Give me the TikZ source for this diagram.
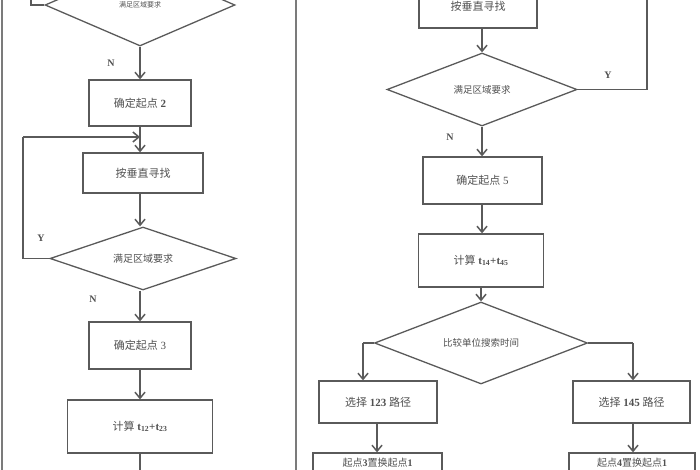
\documentclass[tikz,border=0pt]{standalone}
\usepackage{fontspec}
\setmainfont{Liberation Serif}
\newfontfamily\cjk{Noto Sans CJK SC}
\usetikzlibrary{shapes.geometric,arrows.meta}
\definecolor{lc}{RGB}{90,90,90}
\definecolor{tc}{RGB}{80,80,80}
\tikzset{
  stepbox/.style={draw=lc,line width=1.3pt,rectangle,inner sep=0pt,text=tc,font=\fontsize{11}{13}\selectfont},
  decide/.style={draw=lc,line width=1.3pt,diamond,inner sep=0pt,aspect=2.5,text=tc},
  flow/.style={draw=lc,line width=1.3pt,-{Straight Barb[length=6pt,width=10pt,line width=1.5pt]}},
  plain/.style={draw=lc,line width=1.3pt},
  yn/.style={text=tc,font=\bfseries\fontsize{10}{12}\selectfont,inner sep=0pt},
  panel/.style={draw=lc!80,line width=1.6pt}
}
\begin{document}
\begin{tikzpicture}[x=1pt,y=-1pt]
\useasboundingbox (0,0) rectangle (700,470);
\begin{scope}
\clip (0,0) rectangle (700,470);
% panel borders
\draw[panel] (2,-5) -- (2,475);
\draw[panel] (296,-5) -- (296,475);

% ---------- left column ----------
\node[decide,minimum width=190pt,minimum height=82pt,font=\fontsize{7}{8}\selectfont] (d0) at (140,5) {\cjk 满足区域要求};
\node[stepbox,minimum width=102pt,minimum height=46pt] (b2) at (140,103) {{\cjk 确定起点} \textbf{2}};
\node[stepbox,minimum width=120pt,minimum height=40pt] (bs) at (143,173) {\cjk 按垂直寻找};
\node[decide,minimum width=186pt,minimum height=63pt,font=\fontsize{10}{12}\selectfont] (d1) at (143,258.5) {\cjk 满足区域要求};
\node[stepbox,minimum width=102pt,minimum height=47pt] (b3) at (140,345.5) {{\cjk 确定起点} 3};
\node[stepbox,minimum width=145pt,minimum height=53pt] (b4) at (140,426.5) {{\cjk 计算} \textbf{t}$_{\mathbf{12}}$\textbf{+t}$_{\mathbf{23}}$};

\coordinate (cx) at (140,0);
\coordinate (l0a) at (31,5);
\coordinate (l0b) at (31,-10);
\draw[plain] (d0.west) -- (l0a) -- (l0b);
\draw[flow] (d0.south) -- (b2.north);
\node[yn] (n0) at (111,63) {N};
\draw[flow] (b2.south) -- (b2.south |- bs.north);
\coordinate (j1) at (140,137);
\coordinate (l1a) at (23,258.5);
\coordinate (l1b) at (23,137);
\draw[plain] (d1.west) -- (l1a) -- (l1b);
\draw[flow] (l1b) -- (j1);
\node[yn] (y1) at (41,238) {Y};
\draw[flow] (bs.south -| cx) -- (d1.north -| cx);
\draw[flow] (d1.south -| cx) -- (b3.north);
\node[yn] (n1) at (93,299) {N};
\draw[flow] (b3.south) -- (b4.north);
\coordinate (lend) at (140,480);
\draw[plain] (b4.south) -- (lend);

% ---------- right column ----------
\node[stepbox,minimum width=118pt,minimum height=44pt] (rb1) at (478,6) {\cjk 按垂直寻找};
\node[decide,minimum width=190pt,minimum height=73pt,font=\fontsize{9.5}{11}\selectfont] (rd1) at (482,89.5) {\cjk 满足区域要求};
\node[stepbox,minimum width=119pt,minimum height=47pt] (rb2) at (482.5,180.5) {{\cjk 确定起点} 5};
\node[stepbox,minimum width=125pt,minimum height=53pt] (rb3) at (481,260.5) {{\cjk 计算} \textbf{t}$_{\mathbf{14}}$\textbf{+t}$_{\mathbf{45}}$};
\node[decide,minimum width=213pt,minimum height=82pt,font=\fontsize{9.5}{11}\selectfont] (rd2) at (481,343) {\cjk 比较单位搜索时间};
\node[stepbox,minimum width=118pt,minimum height=42pt] (rb4) at (378,402) {{\cjk 选择} \textbf{123} {\cjk 路径}};
\node[stepbox,minimum width=117pt,minimum height=42pt] (rb5) at (631.5,402) {{\cjk 选择} \textbf{145} {\cjk 路径}};
\node[stepbox,minimum width=129pt,minimum height=40pt] (rb6) at (377.5,473) {};
\node[stepbox,minimum width=126pt,minimum height=40pt] (rb7) at (632,473) {};
\node[text=tc,font=\fontsize{10}{12}\selectfont,inner sep=0pt] (t6) at (377.5,463) {{\cjk 起点}\textbf{3}{\cjk 置换起点}\textbf{1}};
\node[text=tc,font=\fontsize{10}{12}\selectfont,inner sep=0pt] (t7) at (632,463) {{\cjk 起点}\textbf{4}{\cjk 置换起点}\textbf{1}};

\coordinate (rx) at (482,0);
\draw[flow] (rb1.south -| rx) -- (rd1.north);
\coordinate (r1a) at (647,89.5);
\coordinate (r1b) at (647,-10);
\draw[plain] (rd1.east) -- (r1a) -- (r1b);
\node[yn] (y2) at (608,75) {Y};
\draw[flow] (rd1.south) -- (rd1.south |- rb2.north);
\node[yn] (n2) at (450,137) {N};
\draw[flow] (rb2.south -| rx) -- (rb3.north -| rx);
\draw[flow] (rb3.south) -- (rd2.north);
\coordinate (r2a) at (363,343);
\coordinate (r2b) at (633,343);
\draw[plain] (rd2.west) -- (r2a);
\draw[flow] (r2a) -- (r2a |- rb4.north);
\draw[plain] (rd2.east) -- (r2b);
\draw[flow] (r2b) -- (r2b |- rb5.north);
\coordinate (c6) at (377,0);
\coordinate (c7) at (633,0);
\draw[flow] (rb4.south -| c6) -- (rb6.north -| c6);
\draw[flow] (rb5.south -| c7) -- (rb7.north -| c7);
\end{scope}
\end{tikzpicture}
\end{document}
